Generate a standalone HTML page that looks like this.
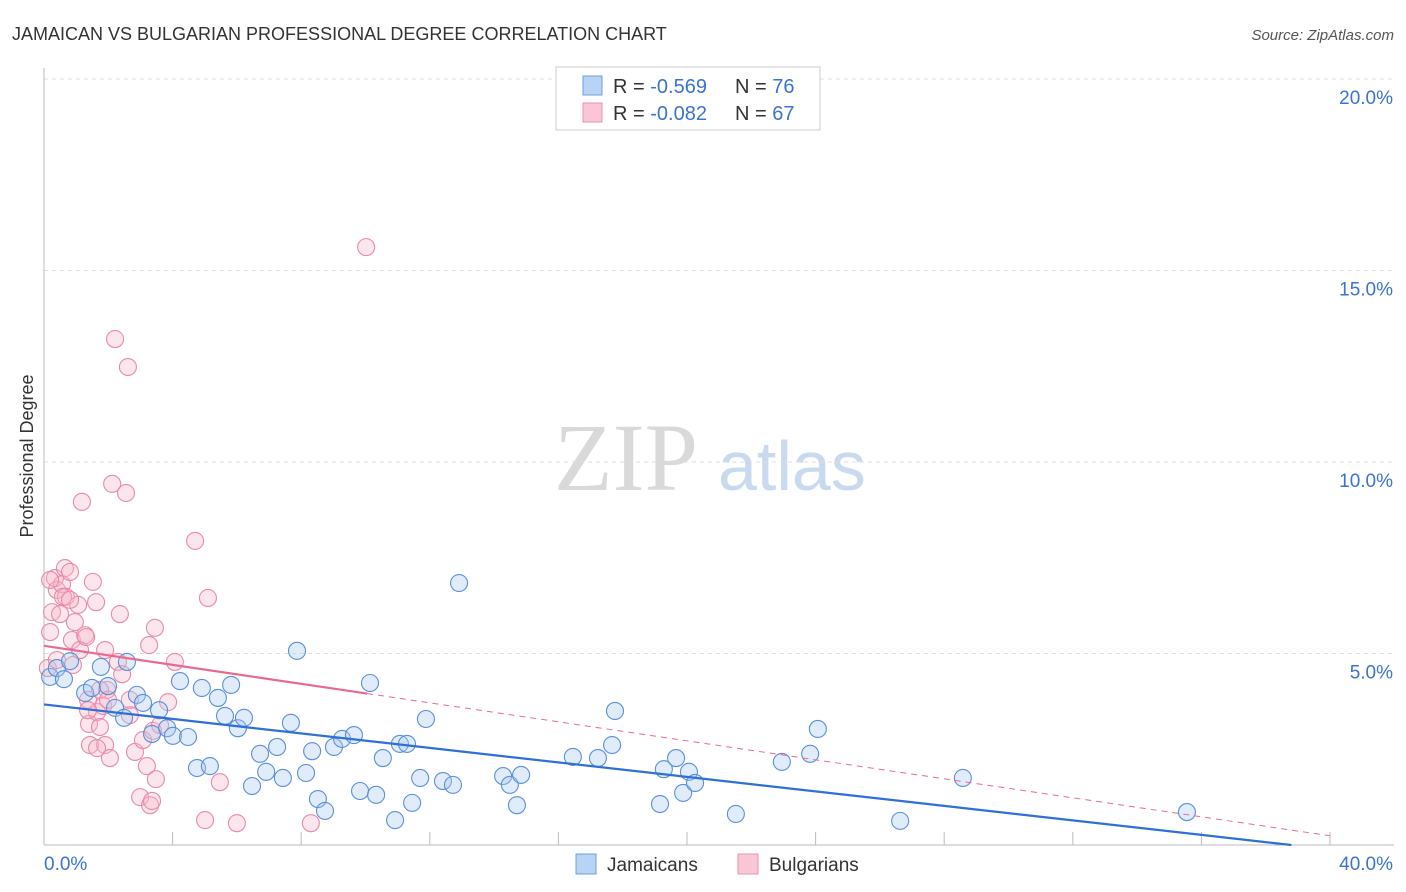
<!DOCTYPE html>
<html><head><meta charset="utf-8">
<style>
body{margin:0;background:#fff;font-family:"Liberation Sans",sans-serif;}
svg{display:block}
</style></head>
<body>
<svg id="chart" width="1406" height="892" xmlns="http://www.w3.org/2000/svg">
<text x="12" y="40" font-size="18" fill="#333">JAMAICAN VS BULGARIAN PROFESSIONAL DEGREE CORRELATION CHART</text>
<text x="1394" y="40" font-size="15" fill="#555" text-anchor="end" font-style="italic">Source: ZipAtlas.com</text>
<g>
<text x="554" y="490" font-size="96" fill="#d9d9d9" font-family="Liberation Serif,serif">ZIP</text>
<text x="718" y="490" font-size="70" fill="#c9daf0">atlas</text>
</g>
<g id="grid"></g>
<g id="axes"></g>
<g id="pinkpts"></g>
<g id="bluepts"></g>
<g id="lines"></g>
<text transform="translate(33,456) rotate(-90)" font-size="18" fill="#333" text-anchor="middle">Professional Degree</text>
<g>
<rect x="556" y="67" width="264" height="63" fill="#fff" stroke="#ccc"/>
<rect x="583" y="76" width="19" height="19" fill="#b9d3f5" stroke="#6f9fdc"/>
<rect x="583" y="103" width="19" height="19" fill="#f9c6d5" stroke="#e891ab"/>
<text x="613" y="93" font-size="20" fill="#333">R = <tspan fill="#3b73d1">-0.569</tspan></text>
<text x="735" y="93" font-size="20" fill="#333">N = <tspan fill="#3b73d1">76</tspan></text>
<text x="613" y="120" font-size="20" fill="#333">R = <tspan fill="#3b73d1">-0.082</tspan></text>
<text x="735" y="120" font-size="20" fill="#333">N = <tspan fill="#3b73d1">67</tspan></text>
</g>
<g>
<rect x="576" y="854" width="20" height="20" fill="#b9d3f5" stroke="#6f9fdc"/>
<text x="607" y="871" font-size="19" fill="#333">Jamaicans</text>
<rect x="738" y="854" width="20" height="20" fill="#f9c6d5" stroke="#e891ab"/>
<text x="769" y="871" font-size="19" fill="#333">Bulgarians</text>
</g>
</svg>
<script>
const yTicks=[0,5,10,15,20];
const yTickLabels=["","5.0%","10.0%","15.0%","20.0%"];
const xTicks=[0,4,8,12,16,20,24,28,32,36,40];
const bluePx=[[50,677],[57,668],[64,679],[70,661],[85,693],[92,688],[101,667],[108,686],[115,708],[124,718],[127,662],[137,695],[143,703],[152,734],[159,710],[167,728],[173,736],[180,681],[188,737],[197,768],[202,688],[210,766],[218,698],[225,716],[231,685],[238,728],[244,718],[252,786],[260,754],[266,772],[277,747],[283,778],[291,723],[297,651],[306,773],[312,751],[318,799],[325,811],[334,747],[342,739],[354,735],[360,791],[370,683],[376,795],[383,758],[395,820],[400,744],[407,744],[412,803],[420,778],[426,719],[443,781],[453,785],[459,583],[503,776],[510,785],[517,805],[521,775],[573,757],[598,758],[612,745],[615,711],[660,804],[664,769],[676,758],[683,793],[689,772],[695,783],[736,814],[782,762],[810,754],[818,729],[900,821],[963,778],[1187,812]];
const pinkPx=[[50,632],[52,612],[55,578],[57,590],[60,614],[62,584],[65,568],[66,597],[70,572],[72,640],[73,665],[75,622],[80,650],[82,502],[85,635],[86,637],[88,700],[89,724],[90,745],[93,582],[96,602],[97,712],[100,727],[103,706],[105,745],[107,690],[110,758],[112,484],[115,339],[118,662],[122,674],[126,493],[128,367],[130,715],[135,752],[140,797],[143,740],[147,766],[149,645],[150,805],[152,801],[153,731],[156,779],[160,725],[168,702],[175,662],[195,541],[205,820],[208,598],[220,782],[237,823],[311,823],[366,247],[120,614],[63,597],[78,605],[48,668],[57,660],[88,710],[100,690],[105,650],[97,748],[70,600],[50,580],[130,700],[108,700],[155,628]];
const blueX=bluePx.map(p=>+((p[0]-44)/32.15).toFixed(2));
const blueY=bluePx.map(p=>+((845-p[1])/38.3).toFixed(2));
const pinkX=pinkPx.map(p=>+((p[0]-44)/32.15).toFixed(2));
const pinkY=pinkPx.map(p=>+((845-p[1])/38.3).toFixed(2));
const blueTrend=[3.67,-0.0946];
const pinkTrend=[5.2,-0.124];
const xs=v=>44+v*32.15, ys=v=>845-v*38.3;
const NS="http://www.w3.org/2000/svg";
function mk(t,a,p){const e=document.createElementNS(NS,t);for(const k in a)e.setAttribute(k,a[k]);p.appendChild(e);return e;}
const grid=document.getElementById('grid'),axes=document.getElementById('axes');
yTicks.forEach((v,i)=>{if(v>0){const l=mk('line',{x1:44,x2:1394,y1:ys(v),y2:ys(v),stroke:'#ddd','stroke-dasharray':'4,4'},grid);


const t=mk('text',{x:1393,y:ys(v)+25,'font-size':19,fill:'#3b73d1','text-anchor':'end'},axes);t.textContent=yTickLabels[i];

}});
mk('line',{x1:44,x2:44,y1:68,y2:845,stroke:'#bbb'},axes);
mk('line',{x1:44,x2:1394,y1:845,y2:845,stroke:'#bbb'},axes);
xTicks.forEach(v=>{const l=mk('line',{x1:xs(v),x2:xs(v),y1:832,y2:845,stroke:'#bbb'},axes);

});
let t=mk('text',{x:44,y:870,'font-size':19,fill:'#3b73d1'},axes);t.textContent="0.0%";


t=mk('text',{x:1393,y:870,'font-size':19,fill:'#3b73d1','text-anchor':'end'},axes);t.textContent="40.0%";


function pts(X,Y,g,fill,stroke,name){X.forEach((x,i)=>{const c=mk('circle',{cx:xs(x),cy:ys(Y[i]),r:8.5,fill:fill,'fill-opacity':0.35,stroke:stroke,'stroke-width':1.1},g);

});}
pts(pinkX,pinkY,document.getElementById('pinkpts'),'#f7b6ca','#e98aa8','bulgarian-point');
pts(blueX,blueY,document.getElementById('bluepts'),'#a9c8f2','#5a8fd8','jamaican-point');
const lg=document.getElementById('lines');
const f=(c,x)=>c[0]+c[1]*x;
let l=mk('line',{x1:xs(0),y1:ys(f(blueTrend,0)),x2:xs(38.8),y2:ys(f(blueTrend,38.8)),stroke:'#2f6fd6','stroke-width':2.2},lg);


l=mk('line',{x1:xs(0),y1:ys(f(pinkTrend,0)),x2:xs(10.05),y2:ys(f(pinkTrend,10.05)),stroke:'#e86a92','stroke-width':2.2},lg);


l=mk('line',{x1:xs(10.05),y1:ys(f(pinkTrend,10.05)),x2:xs(40),y2:ys(f(pinkTrend,40)),stroke:'#e86a92','stroke-width':1,'stroke-dasharray':'6,5'},lg);


</script>
</body></html>
